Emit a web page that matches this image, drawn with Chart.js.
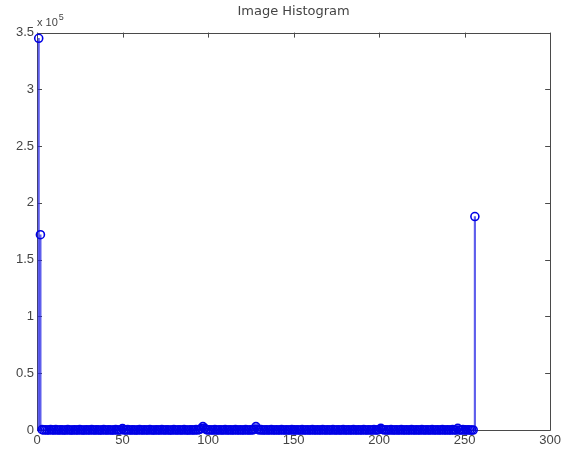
<!DOCTYPE html>
<html>
<head>
<meta charset="utf-8">
<script src="https://cdn.jsdelivr.net/npm/chart.js@4/dist/chart.umd.min.js"></script>
<style>
  html, body { margin: 0; padding: 0; background: #fff; }
  #wrap { width: 564px; height: 455px; }
</style>
</head>
<body>
<div id="wrap"><canvas id="c" width="564" height="455"></canvas></div>
<script>
// ---- data ----
const chartTitle = 'Image Histogram';
const binStart = 1; // first bin index
const binCounts = [
  345000, 172000, 300, 0, 200, 0, 0, 400, 0, 0, 300, 0, 0, 200, 0, 0,
  0, 300, 0, 0, 0, 200, 0, 0, 300, 0, 0, 0, 200, 0, 0, 300,
  0, 0, 200, 0, 0, 0, 300, 0, 0, 200, 0, 0, 0, 300, 0, 0,
  200, 1200, 0, 0, 300, 0, 0, 200, 0, 0, 0, 300, 0, 0, 200, 0,
  0, 300, 0, 0, 0, 200, 0, 0, 300, 0, 0, 200, 0, 0, 0, 300,
  0, 0, 200, 0, 0, 300, 0, 0, 0, 200, 0, 0, 300, 0, 500, 1200,
  3000, 1500, 300, 0, 200, 0, 0, 300, 0, 0, 200, 0, 0, 300, 0, 0,
  200, 0, 0, 300, 0, 0, 200, 0, 0, 300, 0, 0, 200, 0, 800, 3000,
  800, 0, 300, 0, 0, 200, 0, 0, 300, 0, 0, 200, 0, 0, 300, 0,
  0, 200, 0, 0, 300, 0, 0, 200, 0, 0, 300, 0, 0, 200, 0, 0,
  300, 0, 0, 200, 0, 0, 300, 0, 0, 200, 0, 0, 300, 0, 0, 200,
  0, 0, 300, 0, 0, 200, 0, 0, 300, 0, 0, 200, 0, 0, 300, 0,
  0, 200, 0, 0, 300, 0, 0, 500, 1500, 500, 0, 200, 0, 0, 300, 0,
  0, 200, 0, 0, 300, 0, 0, 200, 0, 0, 300, 0, 0, 200, 0, 0,
  300, 0, 0, 200, 0, 0, 300, 0, 0, 200, 0, 0, 300, 0, 0, 200,
  0, 0, 300, 0, 0, 1500, 0, 0, 300, 0, 0, 200, 0, 0, 0, 188000
];
const xTicks = [0, 50, 100, 150, 200, 250, 300];
const yTicks = [0, 50000, 100000, 150000, 200000, 250000, 300000, 350000];
const yExponent = 5;

const points = binCounts.map((v, i) => ({ x: binStart + i, y: v }));

const stemBlue = 'rgb(0,0,230)';
const stemLine = 'rgba(40,40,230,0.75)';
const axisColor = '#4a4a4a';
const textColor = '#444';

const matlabAxes = {
  id: 'matlabAxes',
  beforeDatasetsDraw(chart) {
    const { ctx, chartArea: a, scales } = chart;
    const xs = scales.x, ys = scales.y;
    ctx.save();
    ctx.strokeStyle = axisColor;
    ctx.lineWidth = 1;
    ctx.beginPath();
    ctx.rect(Math.round(a.left) + 0.5, Math.round(a.top) + 0.5,
             Math.round(a.right - a.left), Math.round(a.bottom - a.top));
    ctx.stroke();
    const tl = 5;
    ctx.beginPath();
    xTicks.forEach(t => {
      const px = Math.round(xs.getPixelForValue(t)) + 0.5;
      ctx.moveTo(px, a.bottom); ctx.lineTo(px, a.bottom - tl);
      ctx.moveTo(px, a.top); ctx.lineTo(px, a.top + tl);
    });
    yTicks.forEach(t => {
      const py = Math.round(ys.getPixelForValue(t)) + 0.5;
      ctx.moveTo(a.left, py); ctx.lineTo(a.left + tl, py);
      ctx.moveTo(a.right, py); ctx.lineTo(a.right - tl, py);
    });
    ctx.stroke();
    // exponent label
    ctx.fillStyle = textColor;
    ctx.textBaseline = 'alphabetic';
    ctx.textAlign = 'left';
    ctx.font = '11px "Liberation Sans", Arial, sans-serif';
    const bx = a.left, by = a.top - 7;
    ctx.fillText('x 10', bx, by);
    const w = ctx.measureText('x 10').width;
    ctx.font = '9px "Liberation Sans", Arial, sans-serif';
    ctx.fillText(String(yExponent), bx + w + 1, by - 6);
    ctx.restore();
  }
};

new Chart(document.getElementById('c'), {
  type: 'scatter',
  data: {
    datasets: [
      {
        type: 'scatter',
        data: points,
        showLine: false,
        clip: false,
        pointStyle: 'circle',
        pointRadius: 4,
        pointBorderWidth: 1.6,
        pointBorderColor: stemBlue,
        pointBackgroundColor: 'rgba(0,0,0,0)',
        order: 0
      },
      {
        type: 'bar',
        data: points,
        backgroundColor: stemLine,
        borderWidth: 0,
        barThickness: 1.5,
        order: 1
      }
    ]
  },
  plugins: [matlabAxes],
  options: {
    responsive: false,
    animation: false,
    layout: { padding: { left: 0, right: 12, top: 0, bottom: 0 } },
    plugins: {
      legend: { display: false },
      tooltip: { enabled: false },
      title: {
        display: true,
        text: chartTitle,
        fullSize: false,
        color: textColor,
        font: { family: '"DejaVu Sans", sans-serif', size: 13, weight: 'normal', lineHeight: 1.2 },
        padding: { top: 4, bottom: 13 }
      }
    },
    scales: {
      x: {
        type: 'linear',
        min: 0, max: 300,
        offset: false,
        afterBuildTicks: s => { s.ticks = xTicks.map(v => ({ value: v })); },
        afterFit: s => { s.height = 25; },
        grid: { display: false, drawTicks: false },
        border: { display: false },
        ticks: {
          color: textColor,
          font: { family: '"Liberation Sans", Arial, sans-serif', size: 13 },
          padding: 3,
          maxRotation: 0,
          autoSkip: false
        }
      },
      y: {
        type: 'linear',
        min: 0, max: 350000,
        afterBuildTicks: s => { s.ticks = yTicks.map(v => ({ value: v })); },
        afterFit: s => { s.width = 37; },
        grid: { display: false, drawTicks: false },
        border: { display: false },
        ticks: {
          color: textColor,
          font: { family: '"Liberation Sans", Arial, sans-serif', size: 13 },
          padding: 3,
          autoSkip: false,
          callback: v => String(v / Math.pow(10, yExponent))
        }
      }
    }
  }
});
</script>
</body>
</html>
